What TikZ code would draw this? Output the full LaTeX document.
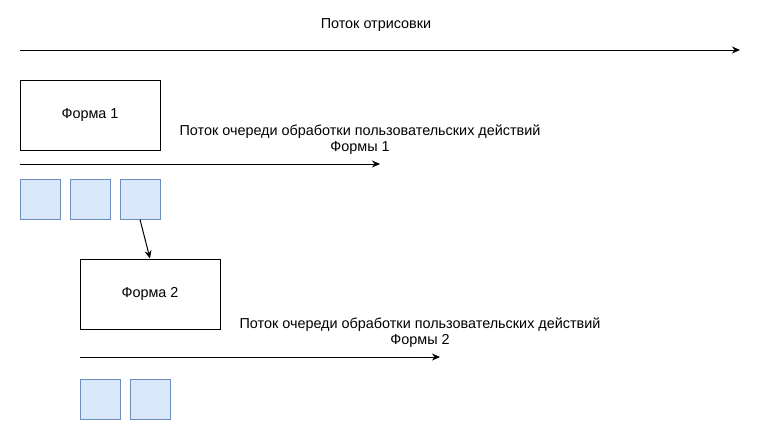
\documentclass[tikz,border=0pt]{standalone}
\usepackage{fontspec}
\setmainfont{Liberation Sans}
\usetikzlibrary{arrows.meta}
\definecolor{qfill}{HTML}{DAE8FC}
\definecolor{qdraw}{HTML}{6C8EBF}
\begin{document}
\begin{tikzpicture}[x=1pt,y=-1pt,
  formbox/.style={draw=black,line width=1pt,minimum width=140pt,minimum height=70pt,inner sep=0pt,font=\fontsize{14.4}{17}\selectfont},
  qsq/.style={draw=qdraw,fill=qfill,line width=1pt,minimum width=40pt,minimum height=40pt,inner sep=0pt},
  flow/.style={line width=1pt,-{Stealth[length=8pt,width=7pt]}},
  lbl/.style={font=\fontsize{14.4}{16.5}\selectfont,align=center,inner sep=0pt}]
\useasboundingbox (0,0) rectangle (759,431);
% top flow
\coordinate (t0) at (20,50);
\coordinate (t1) at (740,50);
\draw[flow] (t0) -- (t1);
\node[lbl] (tl) at (376,25.5) {Поток отрисовки};
% form 1
\node[formbox] (f1) at (90,115) {\raisebox{-1.5pt}{Форма 1}};
\coordinate (a0) at (20,164);
\coordinate (a1) at (380,164);
\draw[flow] (a0) -- (a1);
\node[lbl] (al) at (360,139.5) {Поток очереди обработки пользовательских действий\\Формы 1};
\node[qsq] (s1) at (40,199) {};
\node[qsq] (s2) at (90,199) {};
\node[qsq] (s3) at (140,199) {};
% form 2
\node[formbox] (f2) at (150,294) {\raisebox{-1.5pt}{Форма 2}};
\draw[flow] (s3.south) -- (f2.north);
\coordinate (b0) at (80,357);
\coordinate (b1) at (440,357);
\draw[flow] (b0) -- (b1);
\node[lbl] (bl) at (420,332.5) {Поток очереди обработки пользовательских действий\\Формы 2};
\node[qsq] (r1) at (100,399) {};
\node[qsq] (r2) at (150,399) {};
\end{tikzpicture}
\end{document}
